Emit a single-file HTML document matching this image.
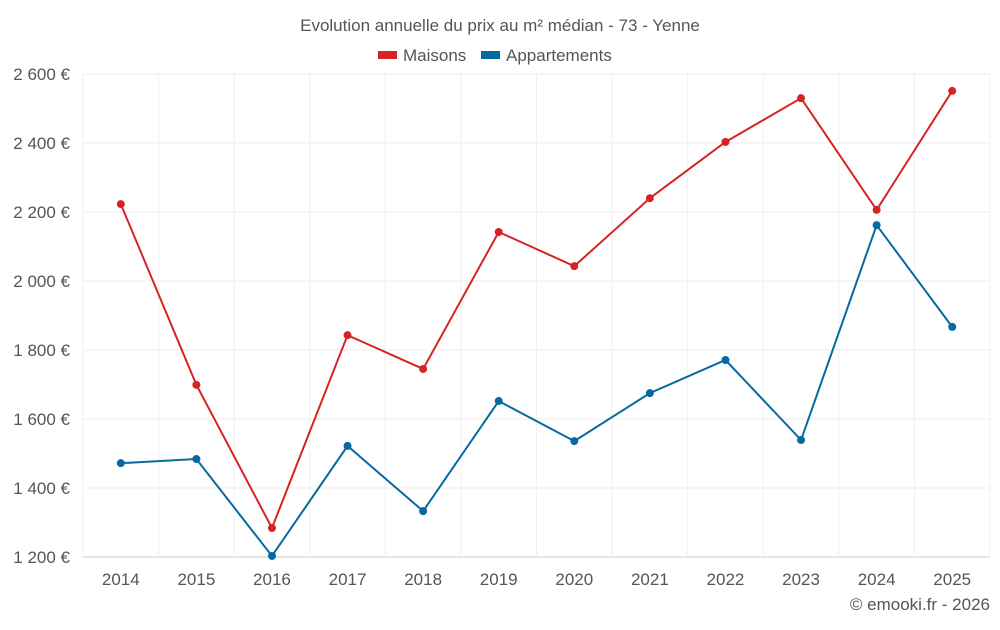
<!DOCTYPE html>
<html><head><meta charset="utf-8"><style>
body{margin:0;background:#fff;font-family:"Liberation Sans",sans-serif;}
svg text{font-family:"Liberation Sans",sans-serif;fill:#555;}
</style></head><body>
<svg id="chart" width="1000" height="625">
<text x="500" y="31" text-anchor="middle" font-size="17">Evolution annuelle du prix au m² médian - 73 - Yenne</text>
<g>
<rect x="378" y="51" width="19" height="8" fill="#d62424"/>
<text x="403" y="61" font-size="17">Maisons</text>
<rect x="481" y="51" width="19" height="8" fill="#0868a0"/>
<text x="506" y="61" font-size="17">Appartements</text>
</g>
<g id="grid"></g><g id="axes"></g><g id="series"></g>
<text x="990" y="610" text-anchor="end" font-size="17">© emooki.fr - 2026</text>
</svg>
<script>
const years=["2014","2015","2016","2017","2018","2019","2020","2021","2022","2023","2024","2025"];
const maisons=[2223,1699,1284,1843,1745,2142,2043,2240,2403,2530,2206,2551];
const appartements=[1472,1484,1203,1522,1333,1652,1536,1675,1771,1539,2162,1867];
const yTicks=[1200,1400,1600,1800,2000,2200,2400,2600];
const NS="http://www.w3.org/2000/svg";
const L=83,R=990,T=74,B=557,ymin=1200,ymax=2600;
const step=(R-L)/years.length;
const x=i=>L+step*(i+0.5);
const y=v=>B-(v-ymin)/(ymax-ymin)*(B-T);
function mk(tag,attrs,parent){const e=document.createElementNS(NS,tag);for(const k in attrs)e.setAttribute(k,attrs[k]);parent.appendChild(e);return e;}
const grid=document.getElementById('grid'),axes=document.getElementById('axes'),ser=document.getElementById('series');
const fmt=v=>{const s=String(v);return s.slice(0,s.length-3)+" "+s.slice(-3)+" €";};
yTicks.forEach(v=>{
 const l=mk('line',{x1:L,x2:R,y1:y(v),y2:y(v),stroke:v===ymin?'#ccc':'#ececec','stroke-width':1},grid);
 
 
 const t=mk('text',{x:70,y:y(v)+6,'text-anchor':'end','font-size':17},axes);t.textContent=fmt(v);
 
 
});
for(let i=0;i<=years.length;i++){
 const l=mk('line',{x1:L+step*i,x2:L+step*i,y1:T,y2:B,stroke:'#f0f0f0','stroke-width':1},grid);
 
 
}
years.forEach((yr,i)=>{
 const t=mk('text',{x:x(i),y:585,'text-anchor':'middle','font-size':17},axes);t.textContent=yr;
 
 
});
function series(vals,color,name){
 const p=mk('polyline',{points:vals.map((v,i)=>x(i)+','+y(v)).join(' '),fill:'none',stroke:color,'stroke-width':2},ser);
 
 
 vals.forEach((v,i)=>{
  const c=mk('circle',{cx:x(i),cy:y(v),r:4,fill:color},ser);
  
  
 });
}
series(maisons,'#d62424','maisons');
series(appartements,'#0868a0','appartements');
</script>
</body></html>
